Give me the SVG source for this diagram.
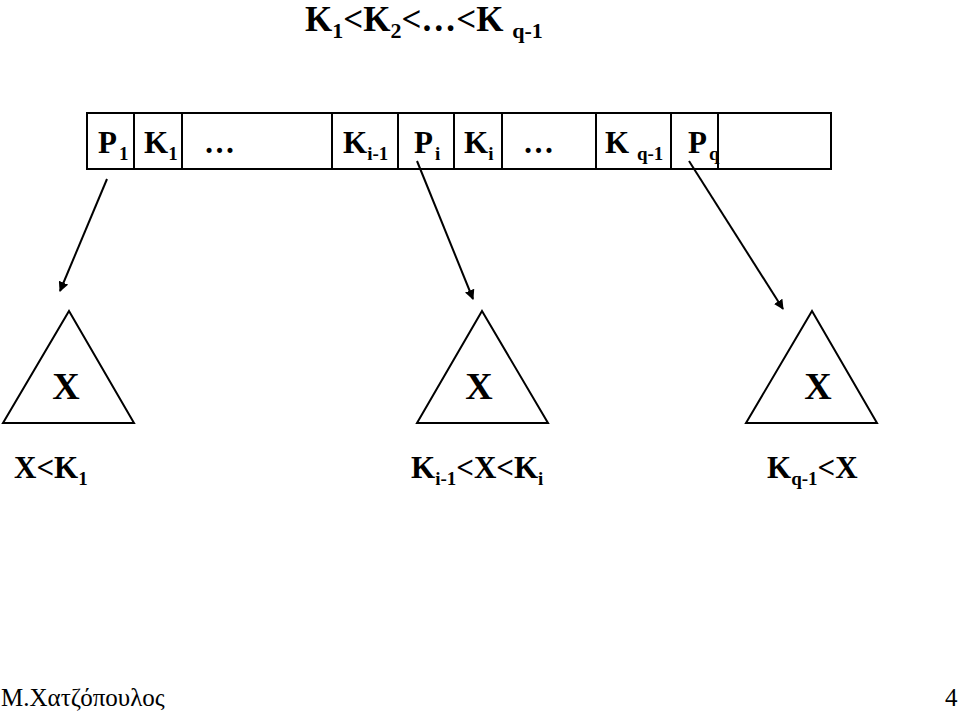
<svg xmlns="http://www.w3.org/2000/svg" width="960" height="719" viewBox="0 0 960 719">
<defs>
<style>
text{font-family:'Liberation Serif','Times New Roman',serif}
.t{font-weight:bold;fill:#000}
.big{font-size:35px}
.bs{font-size:22px}
.c{font-size:31px}
.x{font-size:38px}
.s{font-size:19px}
.tri{fill:none;stroke:#000;stroke-width:2;stroke-linejoin:miter}
.cell{fill:none;stroke:#000;stroke-width:2}
.arr{stroke:#000;stroke-width:2;fill:none;marker-end:url(#ah)}
.f{font-size:25px;fill:#000}
</style>
<marker id="ah" viewBox="0 0 10 10" refX="9" refY="5" markerWidth="5" markerHeight="5" orient="auto" markerUnits="strokeWidth">
<path d="M0,0 L10,5 L0,10 z" fill="#000"/>
</marker>
</defs>
<rect width="960" height="719" fill="#fff"/>
<g id="title">
<text class="t big" x="305" y="31">K<tspan class="bs" dy="7">1</tspan><tspan dy="-7">&lt;K</tspan><tspan class="bs" dy="7">2</tspan><tspan dy="-7">&lt;…&lt;K </tspan><tspan class="bs" dy="7">q-1</tspan></text>
</g>
<g id="node">
<rect class="cell" x="87" y="113" width="744" height="56"/>
<line class="cell" x1="134" y1="113" x2="134" y2="169"/>
<line class="cell" x1="182" y1="113" x2="182" y2="169"/>
<line class="cell" x1="332" y1="113" x2="332" y2="169"/>
<line class="cell" x1="398" y1="113" x2="398" y2="169"/>
<line class="cell" x1="454" y1="113" x2="454" y2="169"/>
<line class="cell" x1="502" y1="113" x2="502" y2="169"/>
<line class="cell" x1="596" y1="113" x2="596" y2="169"/>
<line class="cell" x1="671" y1="113" x2="671" y2="169"/>
<line class="cell" x1="718" y1="113" x2="718" y2="169"/>
<text class="t c" x="98" y="153">P<tspan class="s" dx="2" dy="7">1</tspan></text>
<text class="t c" x="144" y="153">K<tspan class="s" dy="7">1</tspan></text>
<text class="t c" x="204" y="153">…</text>
<text class="t c" x="343" y="153">K<tspan class="s" dy="7">i-1</tspan></text>
<text class="t c" x="414" y="153">P<tspan class="s" dx="2" dy="7">i</tspan></text>
<text class="t c" x="464" y="153">K<tspan class="s" dy="7">i</tspan></text>
<text class="t c" x="523" y="153">…</text>
<text class="t c" x="605" y="153">K <tspan class="s" dy="7">q-1</tspan></text>
<text class="t c" x="688" y="153">P<tspan class="s" dx="2" dy="7">q</tspan></text>
</g>
<g id="connectors">
<line class="arr" x1="107" y1="179" x2="60" y2="291"/>
<line class="arr" x1="417" y1="161" x2="473" y2="299"/>
<line class="arr" x1="689" y1="161" x2="783" y2="309"/>
</g>
<g id="tree1">
<polygon class="tri" points="69,311 134,423 3,423"/>
<text class="t x" x="66" y="399" text-anchor="middle">X</text>
<text class="t c" x="14" y="478">X&lt;K<tspan class="s" dy="7">1</tspan></text>
</g>
<g id="tree2">
<polygon class="tri" points="482,311 548,423 417,423"/>
<text class="t x" x="479" y="399" text-anchor="middle">X</text>
<text class="t c" x="411" y="478">K<tspan class="s" dy="7">i-1</tspan><tspan dy="-7">&lt;X&lt;K</tspan><tspan class="s" dy="7">i</tspan></text>
</g>
<g id="tree3">
<polygon class="tri" points="812,311 877,423 746,423"/>
<text class="t x" x="818" y="399" text-anchor="middle">X</text>
<text class="t c" x="767" y="478">K<tspan class="s" dy="7">q-1</tspan><tspan dy="-7">&lt;X</tspan></text>
</g>
<g id="footer">
<text class="f" x="1" y="706">Μ.Χατζόπουλος</text>
<text class="f" x="945" y="706">4</text>
</g>
</svg>
